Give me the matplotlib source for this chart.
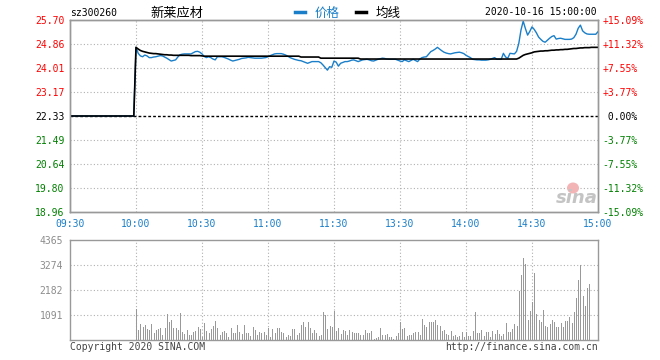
import matplotlib
matplotlib.use('Agg')
import matplotlib.pyplot as plt
from matplotlib.patches import Ellipse

# fonts: monospace for numbers, CJK fallback for the chinese title / legend
plt.rcParams['font.family'] = ['DejaVu Sans Mono', 'Noto Sans CJK SC']

# ---------------------------------------------------------------- data
code = 'sz300260'
name = '新莱应材'
stamp = '2020-10-16 15:00:00'
prev_close = 22.33

# minute index 0..240 (09:30-11:30 then 13:00-15:00)
time_pos = [0, 30, 60, 90, 120, 150, 180, 210, 240]
time_labels = ['09:30', '10:00', '10:30', '11:00', '11:30', '13:30', '14:00', '14:30', '15:00']

price_ticks = [25.70, 24.86, 24.01, 23.17, 22.33, 21.49, 20.64, 19.80, 18.96]
pct_labels = ['+15.09%', '+11.32%', '+7.55%', '+3.77%', ' 0.00%',
              '-3.77%', '-7.55%', '-11.32%', '-15.09%']

vol_ticks = [1091, 2182, 3274, 4365]

# price per minute
price = [22.33] * 30 + [
    24.74, 24.53, 24.44, 24.41, 24.47, 24.44, 24.38, 24.38, 24.40, 24.41,
    24.43, 24.45, 24.44, 24.40, 24.36, 24.31, 24.26, 24.28, 24.30, 24.40,
    24.48, 24.50, 24.51, 24.51, 24.51, 24.51, 24.55, 24.59, 24.60, 24.57,
    24.51, 24.42, 24.38, 24.41, 24.38, 24.33, 24.30, 24.41, 24.41, 24.41,
    24.39, 24.36, 24.33, 24.29, 24.26, 24.28, 24.30, 24.32, 24.35, 24.36,
    24.37, 24.39, 24.38, 24.37, 24.36, 24.36, 24.36, 24.36, 24.37, 24.38,
    24.41, 24.45, 24.48, 24.51, 24.52, 24.52, 24.52, 24.50, 24.47, 24.43,
    24.38, 24.35, 24.32, 24.30, 24.28, 24.27, 24.24, 24.21, 24.18, 24.21,
    24.24, 24.24, 24.24, 24.24, 24.20, 24.12, 24.03, 23.94, 24.06, 24.04,
    24.26, 24.22, 24.08, 24.18, 24.21, 24.24, 24.24, 24.26, 24.29, 24.30,
    24.27, 24.24, 24.27, 24.30, 24.31, 24.32, 24.30, 24.27, 24.26, 24.29,
    24.32, 24.34, 24.36, 24.35, 24.33, 24.32, 24.32, 24.32, 24.32, 24.29,
    24.26, 24.24, 24.30, 24.27, 24.24, 24.28, 24.32, 24.28, 24.24, 24.33,
    24.38, 24.40, 24.41, 24.50, 24.59, 24.63, 24.68, 24.74, 24.68, 24.62,
    24.57, 24.54, 24.52, 24.51, 24.53, 24.55, 24.56, 24.57, 24.55, 24.52,
    24.46, 24.42, 24.38, 24.32, 24.31, 24.30, 24.30, 24.29, 24.29, 24.29,
    24.30, 24.32, 24.35, 24.38, 24.32, 24.32, 24.32, 24.53, 24.40, 24.36,
    24.53, 24.52, 24.51, 24.60, 24.88, 25.35, 25.66, 25.40, 25.17, 25.30,
    25.46, 25.37, 25.25, 25.10, 25.02, 24.95, 24.92, 24.99, 25.06, 25.12,
    25.15, 25.03, 25.05, 25.06, 25.04, 25.02, 25.02, 25.02, 25.03, 25.08,
    25.20, 25.41, 25.52, 25.32, 25.25, 25.21, 25.20, 25.20, 25.20, 25.20,
    25.29,
]

# average price line per minute
avg = [22.33] * 30 + [
    24.74, 24.68, 24.63, 24.60, 24.58, 24.56, 24.54, 24.53, 24.52, 24.52,
    24.51, 24.50, 24.49, 24.48, 24.48, 24.47, 24.47, 24.46, 24.46, 24.46,
    24.46, 24.46, 24.46, 24.46, 24.46, 24.45, 24.45, 24.45, 24.45, 24.45,
    24.44, 24.43, 24.43, 24.43, 24.43, 24.43, 24.43, 24.43, 24.43, 24.43,
    24.43, 24.43, 24.43, 24.43, 24.43, 24.43, 24.43, 24.43, 24.43, 24.43,
    24.43, 24.43, 24.43, 24.43, 24.43, 24.43, 24.43, 24.43, 24.43, 24.43,
    24.43, 24.43, 24.43, 24.43, 24.43, 24.43, 24.43, 24.43, 24.43, 24.43,
    24.43, 24.43, 24.43, 24.43, 24.43, 24.40, 24.40, 24.40, 24.40, 24.40,
    24.40, 24.40, 24.40, 24.40, 24.36, 24.36, 24.36, 24.36, 24.36, 24.36,
    24.36, 24.36, 24.36, 24.36, 24.36, 24.36, 24.36, 24.36, 24.36, 24.36,
    24.36, 24.36, 24.33, 24.33, 24.33, 24.33, 24.33, 24.33, 24.33, 24.33,
    24.33, 24.33, 24.33, 24.33, 24.33, 24.33, 24.33, 24.33, 24.33, 24.33,
    24.33, 24.33, 24.33, 24.33, 24.33, 24.33, 24.33, 24.33, 24.33, 24.33,
    24.33, 24.33, 24.33, 24.33, 24.33, 24.33, 24.33, 24.33, 24.33, 24.33,
    24.33, 24.33, 24.33, 24.33, 24.33, 24.33, 24.33, 24.33, 24.33, 24.33,
    24.33, 24.33, 24.33, 24.33, 24.33, 24.33, 24.33, 24.33, 24.33, 24.33,
    24.33, 24.33, 24.33, 24.33, 24.33, 24.33, 24.33, 24.33, 24.33, 24.33,
    24.33, 24.33, 24.33, 24.33, 24.36, 24.41, 24.46, 24.49, 24.51, 24.53,
    24.55, 24.58, 24.59, 24.60, 24.61, 24.61, 24.62, 24.62, 24.63, 24.64,
    24.64, 24.65, 24.65, 24.66, 24.66, 24.67, 24.67, 24.68, 24.69, 24.70,
    24.70, 24.71, 24.72, 24.72, 24.73, 24.73, 24.73, 24.74, 24.74, 24.74,
    24.74,
]

# volume per minute from 10:00 (minute 30) on
vol_start = 30
volume = [
    1353, 436, 698, 582, 655, 480, 436, 698, 320, 436,
    480, 538, 218, 509, 1135, 786, 873, 509, 509, 436,
    1178, 364, 262, 436, 218, 218, 349, 378, 582, 495,
    145, 742, 393, 306, 466, 626, 829, 538, 218, 349,
    393, 291, 145, 524, 306, 306, 655, 335, 277, 655,
    306,
    291, 189, 567, 436, 218, 335, 291, 349, 218, 509,
    145, 466, 291, 509, 509, 335, 306, 145, 218, 189,
    466, 466, 218, 306, 640, 786, 553, 786, 509, 320,
    436, 291, 175, 233, 1222, 1091, 466, 626, 582, 1251,
    407, 524, 262, 436, 407, 218, 422, 364, 320, 291,
    291, 218, 218, 436, 291,
    291, 393, 44, 73, 131, 524, 218, 218, 262, 131,
    131, 29, 189, 291, 786, 480, 509, 175, 218, 218,
    320, 349, 349, 218, 917, 655, 567, 786, 786, 786,
    873, 655, 626, 393, 436, 262, 218, 393, 175, 218,
    131, 175, 349, 131, 349, 175, 175, 393, 1222, 291,
    320, 436, 175, 349, 349,
    116, 393, 247, 436, 262, 175, 262, 727, 349, 349,
    480, 698, 611, 2153, 2837, 3579, 3303, 873, 1266, 1644,
    2939, 1135, 873, 771, 1310, 611, 553, 698, 873, 771,
    553, 553, 742, 582, 829, 829, 1004, 742, 1222, 1848,
    2619, 3274, 1935, 1484, 2255, 2444,
]

# ---------------------------------------------------------------- figure
W, H = 660, 360
fig = plt.figure(figsize=(6.6, 3.6), dpi=100)
fig.patch.set_facecolor('white')


def px(x, y):
    # pixel position (from top-left) -> figure fraction
    return x / W, 1 - y / H


spine_c = '#999999'
grid_c = '#b0b0b0'
blue = '#1a7ec8'
red = '#ff0000'
green = '#008000'

# main price panel
ax = fig.add_axes([70 / W, 1 - 212 / H, 528 / W, 192 / H])
minutes = list(range(len(price)))
ax.plot(minutes, price, color=blue, lw=1.0, zorder=3)
ax.plot(minutes, avg, color='black', lw=1.2, zorder=4)
ax.axhline(prev_close, color='black', lw=1, ls=(0, (2, 1.5)), zorder=2)

ax.set_xlim(0, 240)
ax.set_ylim(price_ticks[-1], price_ticks[0])
ax.set_xticks(time_pos)
ax.set_xticklabels(time_labels)
ax.set_yticks(price_ticks)
ax.set_yticklabels(['%.2f' % p for p in price_ticks])
ax.tick_params(axis='both', length=0, labelsize=7)
ax.tick_params(axis='x', pad=5, colors=blue)
ax.tick_params(axis='y', pad=4)
for lbl, p in zip(ax.get_yticklabels(), price_ticks):
    if p > prev_close:
        lbl.set_color(red)
    elif p < prev_close:
        lbl.set_color(green)
    else:
        lbl.set_color('black')

# dotted grid, skip the prev close line (drawn dashed above)
for t in time_pos[1:-1]:
    ax.axvline(t, color=grid_c, lw=0.8, ls=(0, (1, 2)), zorder=1)
for p in price_ticks[1:-1]:
    if p != prev_close:
        ax.axhline(p, color=grid_c, lw=0.8, ls=(0, (1, 2)), zorder=1)

for s in ax.spines.values():
    s.set_color(spine_c)
    s.set_linewidth(1)

# right percentage axis
ax2 = ax.twinx()
ax2.set_ylim(ax.get_ylim())
ax2.set_yticks(price_ticks)
ax2.set_yticklabels(pct_labels)
ax2.tick_params(axis='y', length=0, labelsize=7, pad=3)
for lbl, p in zip(ax2.get_yticklabels(), price_ticks):
    if p > prev_close:
        lbl.set_color(red)
    elif p < prev_close:
        lbl.set_color(green)
    else:
        lbl.set_color('black')
for s in ax2.spines.values():
    s.set_color(spine_c)
    s.set_linewidth(1)

# volume panel
axv = fig.add_axes([70 / W, 1 - 340 / H, 528 / W, 100 / H])
vol_x = list(range(vol_start, vol_start + len(volume)))
axv.vlines(vol_x, 0, volume, color='#999999', lw=0.72, antialiased=False, zorder=2)
axv.set_xlim(0, 240)
axv.set_ylim(0, vol_ticks[-1])
axv.set_xticks([])
axv.set_yticks(vol_ticks)
axv.set_yticklabels([str(v) for v in vol_ticks])
axv.tick_params(axis='y', length=0, labelsize=7, pad=5, colors='#8c8c8c')
for t in time_pos[1:-1]:
    axv.axvline(t, color=grid_c, lw=0.8, ls=(0, (1, 2)), zorder=0)
for v in vol_ticks[:-1]:
    axv.axhline(v, color=grid_c, lw=0.8, ls=(0, (1, 2)), zorder=0)
for s in axv.spines.values():
    s.set_color(spine_c)
    s.set_linewidth(1)

# ---------------------------------------------------------------- header
fig.text(*px(70, 13), code, fontsize=7, va='center', ha='left')
fig.text(*px(150, 13), name, fontsize=9.5, va='center', ha='left',
         family=['Noto Sans CJK SC', 'DejaVu Sans'])

# legend
fig.add_artist(plt.Line2D([295 / W, 305 / W], [1 - 12 / H] * 2, color=blue, lw=2.5))
fig.text(*px(315, 13), '价格', fontsize=9, color=blue, va='center', ha='left',
         family=['Noto Sans CJK SC', 'DejaVu Sans'])
fig.add_artist(plt.Line2D([356 / W, 366 / W], [1 - 12 / H] * 2, color='black', lw=2.5))
fig.text(*px(376, 13), '均线', fontsize=9, color='black', va='center', ha='left',
         family=['Noto Sans CJK SC', 'DejaVu Sans'])

fig.text(*px(597, 12), stamp, fontsize=7, va='center', ha='right')

# footer
fig.text(*px(70, 347), 'Copyright 2020 SINA.COM', fontsize=7, color='#444444',
         va='center', ha='left')
fig.text(*px(598, 347), 'http://finance.sina.com.cn', fontsize=7, color='#444444',
         va='center', ha='right')

# faint sina watermark
fig.add_artist(Ellipse(px(573, 188), 12 / W, 11 / H, transform=fig.transFigure,
                       facecolor='#f2b4b4', edgecolor='none', zorder=5))
fig.text(*px(577, 198), 'sina', fontsize=13, color='#c4c4c4', style='italic',
         weight='bold', va='center', ha='center', family='DejaVu Sans', zorder=6)

fig.savefig('out.png', dpi=100, facecolor='white')
